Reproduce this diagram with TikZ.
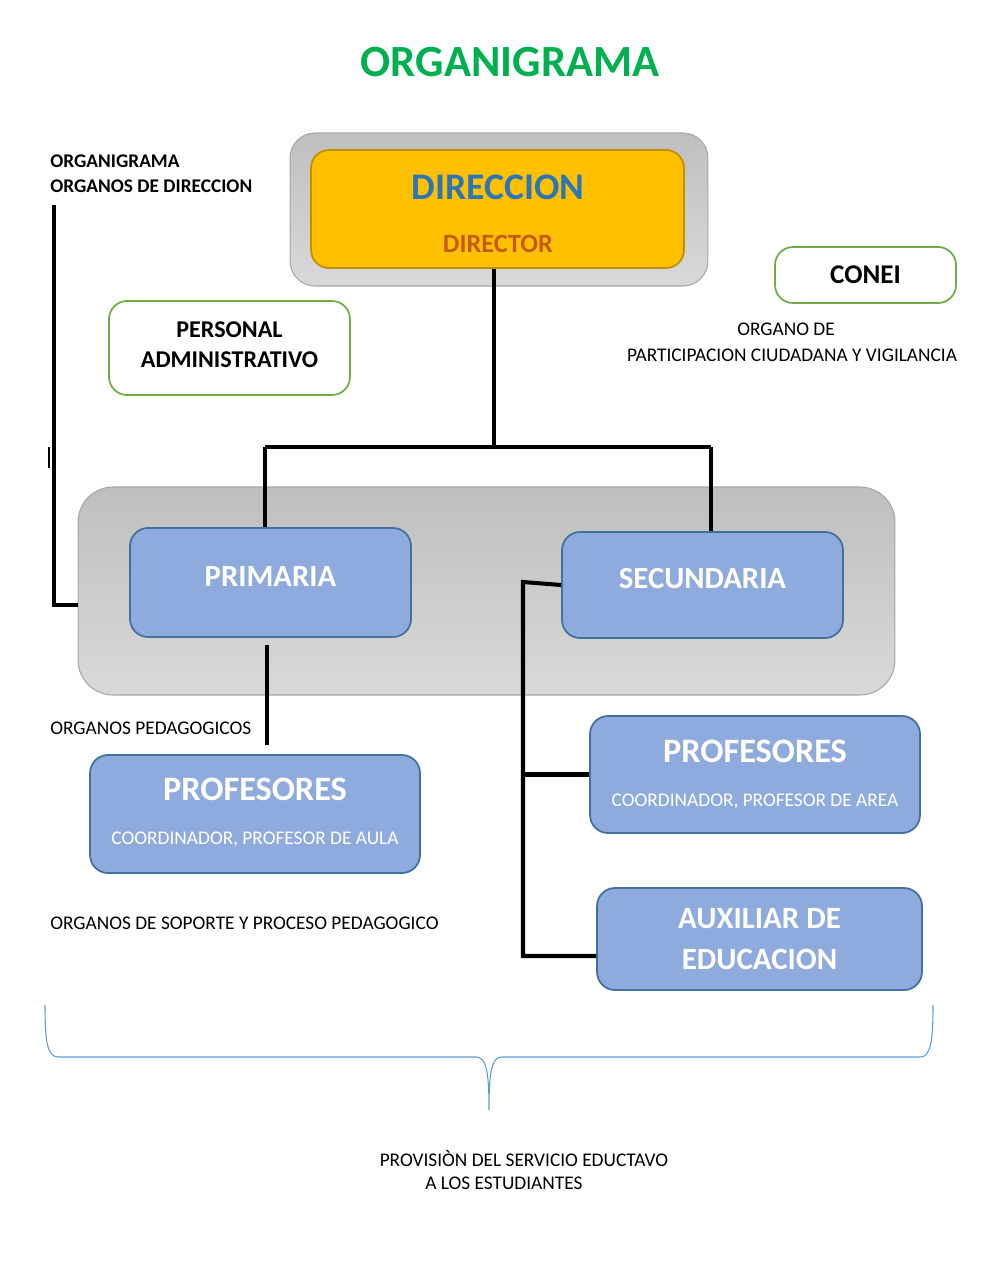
\documentclass[tikz,border=0pt]{standalone}
\usepackage{fontspec}
\setmainfont{Carlito}
\usepackage{tikz}
\usetikzlibrary{positioning}
\definecolor{verde}{HTML}{00B050}
\definecolor{verdeb}{HTML}{70AD47}
\definecolor{grisa}{HTML}{BFBFBF}
\definecolor{grisc}{HTML}{D9D9D9}
\definecolor{grisb}{HTML}{A6A6A6}
\definecolor{amarillo}{HTML}{FFC000}
\definecolor{amab}{HTML}{BF9000}
\definecolor{azul}{HTML}{8FAADC}
\definecolor{azulb}{HTML}{41719C}
\definecolor{azulc}{HTML}{5B9BD5}
\definecolor{azult}{HTML}{2E75B6}
\definecolor{naranja}{HTML}{C55A11}
\tikzset{
    boxg/.style = {rectangle, rounded corners=0.5cm, draw=grisb, line width=0.6pt, top color=grisa, bottom color=grisc, inner sep=0pt},
    boxy/.style = {rectangle, rounded corners=0.36cm, draw=amab, line width=1pt, fill=amarillo, inner sep=0pt},
    boxb/.style = {rectangle, rounded corners=0.36cm, draw=azulb, line width=1pt, fill=azul, inner sep=0pt, text=white, font=\bfseries\fontsize{17.5}{21}\selectfont},
    boxv/.style = {rectangle, rounded corners=0.36cm, draw=verdeb, line width=1pt, fill=white, inner sep=0pt, align=center, font=\bfseries\fontsize{13.7}{17}\selectfont},
    lbl/.style = {anchor=west, inner sep=0pt, font=\fontsize{11}{15}\selectfont},
    lblb/.style = {anchor=west, inner sep=0pt, font=\bfseries\fontsize{11}{15}\selectfont},
    txtw/.style = {inner sep=0pt, text=white},
    edgen/.style = {-,line width=2.3pt,black},
    edgeb/.style = {-,line width=0.6pt,azulc},
}

\begin{document}
\begin{tikzpicture}[x=0.02cm,y=-0.02cm]
\useasboundingbox (0,0) rectangle (1000,1280);
\node[text=verde, font=\bfseries\fontsize{25.4}{30}\selectfont] at (510,62) (titulo) {ORGANIGRAMA};
\node[lblb] at (50,161) (org) {ORGANIGRAMA};
\node[lblb] at (50,186) (odir) {ORGANOS DE DIRECCION};
% direccion
\node[boxg, minimum width=8.36cm, minimum height=3.06cm] at (499,209.5) (dirg) {};
\node[boxy, minimum width=7.46cm, minimum height=2.36cm] at (497.5,209) (dir) {};
\node[text=azult, font=\bfseries\fontsize{21.4}{26}\selectfont] at (498,187) (tdir) {DIRECCION};
\node[text=naranja, font=\bfseries\fontsize{15}{18}\selectfont] at (498,244) (tdirr) {DIRECTOR};
\node[boxv, minimum width=4.82cm, minimum height=1.88cm, text depth=3.4pt] at (229.5,348) (pers) {PERSONAL\\ADMINISTRATIVO};
\node[boxv, minimum width=3.62cm, minimum height=1.12cm, font=\bfseries\fontsize{15.4}{18}\selectfont] at (865.5,275) (conei) {CONEI};
\node[lbl, anchor=center] at (786,329) (oconei) {ORGANO DE};
\node[lbl, anchor=center] at (792,355) (pconei) {PARTICIPACION CIUDADANA Y VIGILANCIA};
% niveles
\node[boxg, minimum width=16.34cm, minimum height=4.16cm, rounded corners=0.7cm] at (486.5,591) (nivel) {};
\node[boxb, minimum width=5.62cm, minimum height=2.18cm, text depth=7pt] at (270.5,582.5) (prim) {PRIMARIA};
\node[boxb, minimum width=5.62cm, minimum height=2.12cm, text depth=8pt] at (702.5,585) (secu) {SECUNDARIA};
\node[lbl] at (50,728) (oped) {ORGANOS PEDAGOGICOS};
\node[boxb, minimum width=6.6cm, minimum height=2.36cm] at (255,814) (profp) {};
\node[txtw, font=\bfseries\fontsize{19.5}{23}\selectfont] at (255,789) (tprofp) {PROFESORES};
\node[txtw, font=\fontsize{11}{13}\selectfont] at (255,839) (cprofp) {COORDINADOR, PROFESOR DE AULA};
\node[lbl] at (50,923) (osop) {ORGANOS DE SOPORTE Y PROCESO PEDAGOGICO};
\node[boxb, minimum width=6.6cm, minimum height=2.34cm] at (755,774.5) (profs) {};
\node[txtw, font=\bfseries\fontsize{19.5}{23}\selectfont] at (755,751) (tprofs) {PROFESORES};
\node[txtw, font=\fontsize{11}{13}\selectfont] at (755,801) (cprofs) {COORDINADOR, PROFESOR DE AREA};
\node[boxb, minimum width=6.5cm, minimum height=2.04cm, align=center, font=\bfseries\fontsize{17.6}{23}\selectfont] at (759.5,939) (aux) {AUXILIAR DE\\EDUCACION};
\node[lbl, anchor=center] at (524,1158) (prov) {PROVISIÒN DEL SERVICIO EDUCTAVO};
\node[lbl] at (425,1183) (est) {A LOS ESTUDIANTES};
% conectores
\coordinate (hl) at (265,447);
\coordinate (hr) at (711,447);
\coordinate (lt) at (54,205);
\coordinate (sv) at (523,582);
\draw[edgen] ([xshift=-2pt]dir.south) -- ([xshift=-2pt]dir.south |- hl);
\draw[edgen] (hl) -- (hr);
\draw[edgen] (hl) -- (hl |- prim.north);
\draw[edgen] (hr) -- (hr |- secu.north);
\draw[edgen] (lt) |- (nivel.west |- 0,605);
\draw[line width=0.8pt] (49,447) -- (49,468);
\draw[edgen, shorten <=4pt, shorten >=5pt] ([xshift=-2pt]prim.south) -- ([xshift=-2pt]prim.south |- profp.north);
\draw[edgen] (secu.west) -- (sv) -- (sv |- 0,956) -- (aux.west |- 0,956);
\draw[edgen] (sv |- profs.west) -- (profs.west);
% llave
\draw[edgeb] (45,1005) .. controls (45,1040) and (47,1057) .. (58,1057) -- (476,1057) .. controls (486,1057) and (489,1070) .. (489,1110) .. controls (489,1070) and (492,1057) .. (502,1057) -- (920,1057) .. controls (931,1057) and (933,1040) .. (933,1005);
\end{tikzpicture}
\end{document}
